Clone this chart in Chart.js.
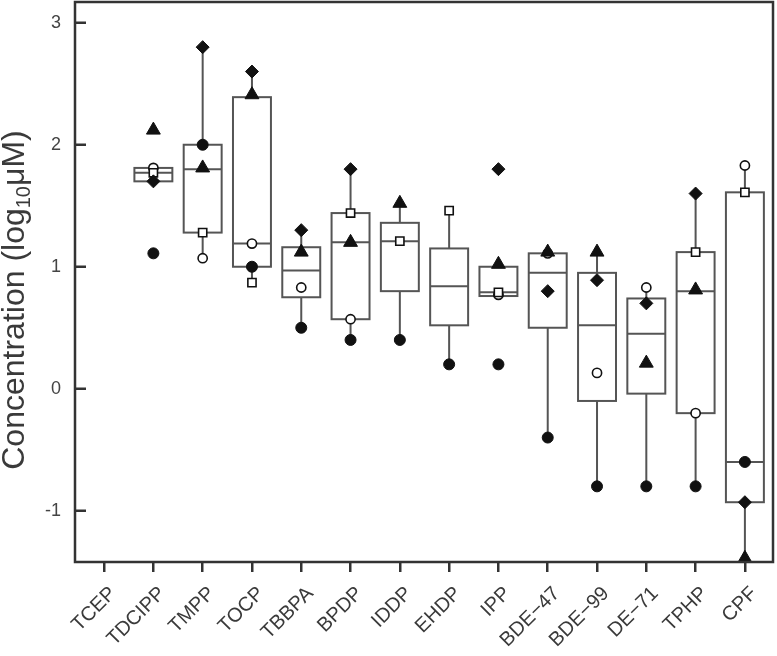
<!DOCTYPE html>
<html>
<head>
<meta charset="utf-8">
<script src="https://cdn.jsdelivr.net/npm/chart.js@4.4.1/dist/chart.umd.min.js"></script>
<style>
  html, body { margin: 0; padding: 0; background: #fff; }
  #c { display: block; }
</style>
</head>
<body>
<canvas id="c" width="777" height="656"></canvas>
<script>
const categories = ["TCEP", "TDCIPP", "TMPP", "TOCP", "TBBPA", "BPDP", "IDDP", "EHDP", "IPP", "BDE\u221247", "BDE\u221299", "DE\u221271", "TPHP", "CPF"];
const yTicks = [-1, 0, 1, 2, 3];
const yTitle = ["Concentration (log", "10", "\u03bcM)"];

// box plot summary per compound
const boxQ1 = [null, 1.70, 1.28, 1.00, 0.75, 0.57, 0.80, 0.52, 0.76, 0.50, -0.10, -0.04, -0.20, -0.93];
const boxMedian = [null, 1.77, 1.80, 1.19, 0.97, 1.20, 1.21, 0.84, 0.79, 0.95, 0.52, 0.45, 0.80, -0.60];
const boxQ3 = [null, 1.81, 2.00, 2.39, 1.16, 1.44, 1.36, 1.15, 1.00, 1.11, 0.95, 0.74, 1.12, 1.61];
const whiskerLow = [null, 1.70, 1.07, 0.87, 0.50, 0.40, 0.40, 0.20, 0.76, -0.40, -0.80, -0.80, -0.80, -1.39];
const whiskerHigh = [null, 1.81, 2.80, 2.60, 1.30, 1.80, 1.52, 1.46, 1.00, 1.11, 1.12, 0.83, 1.60, 1.83];

// individual values, one array per marker
const diamondVals = [null, 1.70, 2.80, 2.60, 1.30, 1.80, null, null, 1.80, 0.80, 0.89, 0.70, 1.60, -0.93];
const triangleVals = [null, 2.12, 1.81, 2.41, 1.12, 1.20, 1.52, null, 1.02, 1.12, 1.12, 0.21, 0.81, -1.39];
const dotVals = [null, 1.11, 2.00, 1.00, 0.50, 0.40, 0.40, 0.20, 0.20, -0.40, -0.80, -0.80, -0.80, -0.60];
const squareVals = [null, 1.77, 1.28, 0.87, null, 1.44, 1.21, 1.46, 0.79, null, null, null, 1.12, 1.61];
const ringVals = [null, 1.81, 1.07, 1.19, 0.83, 0.57, null, null, 0.77, 1.11, 0.13, 0.83, -0.20, 1.83];

const BOX_HALF = 0.385;
const LINE = "#555";
const AXIS = "#333";
const FONT = "Liberation Sans, Arial, sans-serif";

function pts(arr) {
  return arr.map((v, i) => (v == null ? null : { x: i, y: v })).filter(Boolean);
}

function marker(label, arr, style, radius, fill, border) {
  return {
    label,
    data: pts(arr),
    pointStyle: style,
    pointRadius: radius,
    pointHoverRadius: radius,
    pointBackgroundColor: fill,
    pointBorderColor: "#111",
    pointBorderWidth: border,
    showLine: false,
    clip: 0,
  };
}

const boxPlugin = {
  id: "boxes",
  beforeDatasetsDraw(chart) {
    const { ctx, chartArea: a, scales: { x, y } } = chart;
    ctx.save();
    ctx.beginPath();
    ctx.rect(a.left, a.top, a.width, a.height);
    ctx.clip();
    ctx.strokeStyle = LINE;
    ctx.lineWidth = 2;
    categories.forEach((c, i) => {
      if (boxQ1[i] == null) return;
      const xc = x.getPixelForValue(i);
      const x0 = x.getPixelForValue(i - BOX_HALF);
      const x1 = x.getPixelForValue(i + BOX_HALF);
      const y1 = y.getPixelForValue(boxQ1[i]);
      const y3 = y.getPixelForValue(boxQ3[i]);
      const ym = y.getPixelForValue(boxMedian[i]);
      ctx.beginPath();
      ctx.moveTo(xc, y3);
      ctx.lineTo(xc, y.getPixelForValue(whiskerHigh[i]));
      ctx.moveTo(xc, y1);
      ctx.lineTo(xc, y.getPixelForValue(whiskerLow[i]));
      ctx.stroke();
      ctx.fillStyle = "#fff";
      ctx.fillRect(x0, y3, x1 - x0, y1 - y3);
      ctx.strokeRect(x0, y3, x1 - x0, y1 - y3);
      ctx.beginPath();
      ctx.moveTo(x0, ym);
      ctx.lineTo(x1, ym);
      ctx.stroke();
    });
    ctx.restore();
  },
};

const framePlugin = {
  id: "frame",
  afterDatasetsDraw(chart) {
    const { ctx, chartArea: a, scales: { y } } = chart;
    ctx.save();
    ctx.strokeStyle = AXIS;
    ctx.lineWidth = 2.5;
    ctx.strokeRect(a.left, a.top, a.width, a.height);
    ctx.beginPath();
    y.ticks.forEach((t) => {
      const py = y.getPixelForValue(t.value);
      ctx.moveTo(a.left, py);
      ctx.lineTo(a.left + 11, py);
    });
    ctx.stroke();

    // y title with a real subscript
    const big = "32px " + FONT, small = "20px " + FONT;
    ctx.font = big;
    const w1 = ctx.measureText(yTitle[0]).width;
    const w3 = ctx.measureText(yTitle[2]).width;
    ctx.font = small;
    const w2 = ctx.measureText(yTitle[1]).width;
    const total = w1 + w2 + w3;
    ctx.translate(24, 300);
    ctx.rotate(-Math.PI / 2);
    ctx.fillStyle = "#3a3a3a";
    ctx.textBaseline = "alphabetic";
    ctx.textAlign = "left";
    let tx = -total / 2;
    ctx.font = big;
    ctx.fillText(yTitle[0], tx, 0);
    tx += w1;
    ctx.font = small;
    ctx.fillText(yTitle[1], tx, 6);
    tx += w2;
    ctx.font = big;
    ctx.fillText(yTitle[2], tx, 0);
    ctx.restore();
  },
};

new Chart(document.getElementById("c"), {
  type: "scatter",
  data: {
    datasets: [
      marker("Diamond", diamondVals, "rectRot", 6.5, "#111", 1),
      marker("Triangle", triangleVals, "triangle", 8, "#111", 1),
      marker("Dot", dotVals, "circle", 5.5, "#111", 1),
      marker("Square", squareVals, "rect", 5.8, "#fff", 1.6),
      marker("Ring", ringVals, "circle", 4.6, "#fff", 1.6),
    ],
  },
  options: {
    responsive: false,
    animation: false,
    layout: { autoPadding: false, padding: { top: 2, right: 4, left: 0, bottom: 0 } },
    plugins: {
      legend: { display: false },
      tooltip: { enabled: false },
    },
    scales: {
      x: {
        type: "linear",
        min: -0.59,
        max: 13.57,
        border: { display: false },
        grid: { drawOnChartArea: false, drawTicks: true, tickLength: 10, color: AXIS, lineWidth: 2.5 },
        afterBuildTicks: (s) => { s.ticks = categories.map((c, i) => ({ value: i })); },
        afterFit: (s) => { s.height = 94; s.paddingLeft = 0; s.paddingRight = 0; },
        ticks: {
          autoSkip: false,
          minRotation: 45,
          maxRotation: 45,
          padding: 10,
          labelOffset: 9,
          color: "#3a3a3a",
          font: { family: FONT, size: 20 },
          callback: (v) => categories[v],
        },
      },
      y: {
        min: -1.42,
        max: 3.17,
        border: { display: false },
        grid: { display: false, drawTicks: false },
        afterBuildTicks: (s) => { s.ticks = yTicks.map((v) => ({ value: v })); },
        afterFit: (s) => { s.width = 75; s.paddingTop = 0; s.paddingBottom = 0; },
        ticks: {
          padding: 14,
          color: "#444",
          font: { family: FONT, size: 18 },
          callback: (v) => String(v),
        },
      },
    },
  },
  plugins: [boxPlugin, framePlugin],
});
</script>
</body>
</html>
